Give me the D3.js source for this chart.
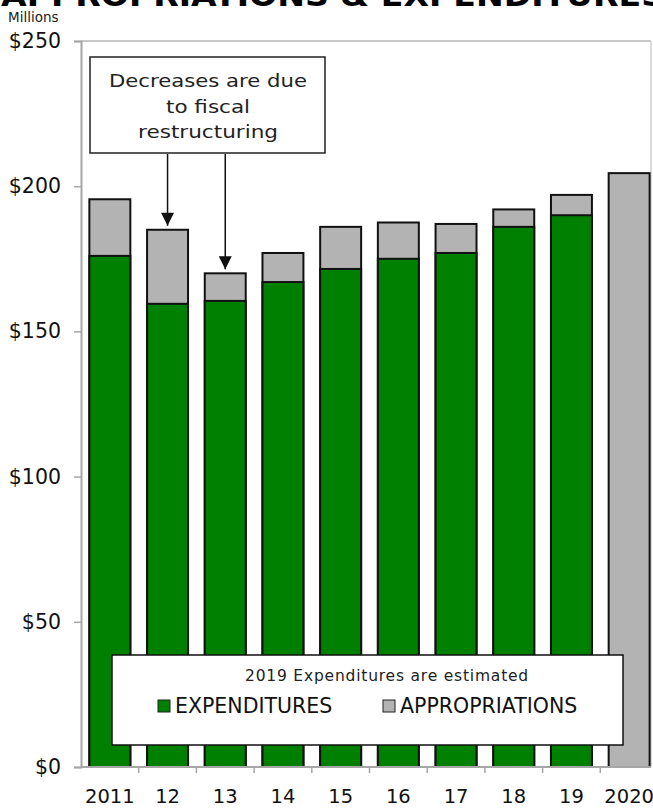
<!DOCTYPE html>
<html>
<head>
<meta charset="utf-8">
<script src="https://cdn.jsdelivr.net/npm/d3@7"></script>
<style>
  body { margin: 0; background: #fff; }
  svg { display: block; font-family: "DejaVu Sans", Verdana, sans-serif; }
</style>
</head>
<body>
<div id="chart"></div>
<script>
// values, in $ millions
const years = ["2011", "12", "13", "14", "15", "16", "17", "18", "19", "2020"];
const expenditures = [176, 159.5, 160.5, 167, 171.5, 175, 177, 186, 190, null];
const appropriations = [195.5, 185, 170, 177, 186, 187.5, 187, 192, 197, 204.5];
const yTicks = [0, 50, 100, 150, 200, 250];
const arrowYears = ["12", "13"];

const width = 653, height = 808;
const green = "#008000", gray = "#b3b3b3", axisGray = "#a6a6a6";

var svg = d3.select("#chart").append("svg")
    .attr("width", width)
    .attr("height", height);

var x = d3.scaleBand()
    .domain(years)
    .range([81, 658])
    .paddingInner(0.29)
    .paddingOuter(0.145);

var y = d3.scaleLinear()
    .domain([0, 250])
    .range([767, 41]);

// title, cut off by the top of the picture
svg.append("text")
    .attr("x", 1)
    .attr("y", 6)
    .attr("font-size", 31)
    .attr("font-weight", "bold")
    .attr("textLength", 664)
    .attr("lengthAdjust", "spacingAndGlyphs")
    .text("APPROPRIATIONS & EXPENDITURES");

svg.append("text")
    .attr("x", 8)
    .attr("y", 22)
    .attr("font-size", 13.5)
    .attr("fill", "#222")
    .text("Millions");

// plot frame: top gridline and right edge
svg.append("line")
    .attr("x1", x.range()[0]).attr("x2", 651)
    .attr("y1", y(250)).attr("y2", y(250))
    .attr("stroke", "#c8c8c8").attr("stroke-width", 2);
svg.append("line")
    .attr("x1", 651).attr("x2", 651)
    .attr("y1", y(250)).attr("y2", y(0))
    .attr("stroke", "#d0d0d0").attr("stroke-width", 1.5);

// bars: full appropriation in gray, expenditures in green on top
var bars = svg.append("g");
bars.selectAll("rect.approp")
    .data(years)
    .enter().append("rect")
    .attr("class", "approp")
    .attr("x", d => x(d))
    .attr("width", x.bandwidth())
    .attr("y", (d, i) => y(appropriations[i]))
    .attr("height", (d, i) => y(0) - y(appropriations[i]))
    .attr("fill", gray)
    .attr("stroke", "#111")
    .attr("stroke-width", 2);

bars.selectAll("rect.exp")
    .data(years.filter((d, i) => expenditures[i] != null))
    .enter().append("rect")
    .attr("class", "exp")
    .attr("x", d => x(d))
    .attr("width", x.bandwidth())
    .attr("y", d => y(expenditures[years.indexOf(d)]))
    .attr("height", d => y(0) - y(expenditures[years.indexOf(d)]))
    .attr("fill", green)
    .attr("stroke", "#111")
    .attr("stroke-width", 2);

// y axis
var yAxis = svg.append("g")
    .attr("transform", "translate(" + x.range()[0] + ",0)")
    .call(d3.axisLeft(y).tickValues(yTicks).tickSize(7).tickPadding(13)
        .tickFormat(d => "$" + d));
yAxis.select(".domain").attr("stroke", axisGray).attr("stroke-width", 2);
yAxis.selectAll(".tick line").attr("stroke", axisGray).attr("stroke-width", 1.5);
yAxis.selectAll(".tick text")
    .attr("font-size", 20.5)
    .attr("font-family", "DejaVu Sans, sans-serif")
    .attr("fill", "#111");

// x axis: ticks sit between categories
var xAxis = svg.append("g")
    .attr("transform", "translate(0," + y(0) + ")");
xAxis.append("line")
    .attr("x1", x.range()[0]).attr("x2", 651)
    .attr("stroke", axisGray).attr("stroke-width", 2);
xAxis.selectAll("line.sep")
    .data(years.slice(1))
    .enter().append("line")
    .attr("class", "sep")
    .attr("x1", d => x(d) - x.step() * x.paddingInner() / 2)
    .attr("x2", d => x(d) - x.step() * x.paddingInner() / 2)
    .attr("y1", 0).attr("y2", 6)
    .attr("stroke", axisGray).attr("stroke-width", 1.5);
xAxis.selectAll("text")
    .data(years)
    .enter().append("text")
    .attr("x", d => x(d) + x.bandwidth() / 2)
    .attr("y", 36)
    .attr("text-anchor", "middle")
    .attr("font-size", 19.5)
    .attr("fill", "#111")
    .text(d => d);

// annotation box with arrows
var note = svg.append("g");
note.append("rect")
    .attr("x", 90).attr("y", 57)
    .attr("width", 235).attr("height", 96)
    .attr("fill", "#fff")
    .attr("stroke", "#222").attr("stroke-width", 1.5);
note.selectAll("text")
    .data(["Decreases are due", "to fiscal", "restructuring"])
    .enter().append("text")
    .attr("x", 208)
    .attr("y", (d, i) => 87 + i * 25.5)
    .attr("text-anchor", "middle")
    .attr("font-size", 18)
    .attr("textLength", (d, i) => [198, 84, 140][i])
    .attr("lengthAdjust", "spacingAndGlyphs")
    .attr("fill", "#222")
    .text(d => d);

svg.append("defs").append("marker")
    .attr("id", "head")
    .attr("viewBox", "0 0 10 10")
    .attr("refX", 10).attr("refY", 5)
    .attr("markerWidth", 15).attr("markerHeight", 13)
    .attr("markerUnits", "userSpaceOnUse")
    .attr("orient", "auto")
    .append("path")
    .attr("d", "M0,0L10,5L0,10Z")
    .attr("fill", "#111");

note.selectAll("line")
    .data(arrowYears)
    .enter().append("line")
    .attr("x1", d => x(d) + x.bandwidth() / 2)
    .attr("x2", d => x(d) + x.bandwidth() / 2)
    .attr("y1", 154)
    .attr("y2", d => y(appropriations[years.indexOf(d)]) - 4)
    .attr("stroke", "#111").attr("stroke-width", 1.5)
    .attr("marker-end", "url(#head)");

// legend
var legend = svg.append("g");
legend.append("rect")
    .attr("x", 112).attr("y", 655)
    .attr("width", 511).attr("height", 90)
    .attr("fill", "#fff")
    .attr("stroke", "#111").attr("stroke-width", 1.5);
legend.append("text")
    .attr("x", 387).attr("y", 681)
    .attr("text-anchor", "middle")
    .attr("font-size", 15.5)
    .attr("letter-spacing", 0.8)
    .attr("fill", "#222")
    .text("2019 Expenditures are estimated");

var items = [
    { label: "EXPENDITURES", color: green, x: 158 },
    { label: "APPROPRIATIONS", color: gray, x: 383 }
];
var item = legend.selectAll("g.item")
    .data(items)
    .enter().append("g")
    .attr("class", "item")
    .attr("transform", d => "translate(" + d.x + ",700)");
item.append("rect")
    .attr("width", 12).attr("height", 12)
    .attr("fill", d => d.color)
    .attr("stroke", "#222").attr("stroke-width", 1);
item.append("text")
    .attr("x", 17).attr("y", 13)
    .attr("font-size", 20.5)
    .attr("fill", "#111")
    .text(d => d.label);
</script>
</body>
</html>
